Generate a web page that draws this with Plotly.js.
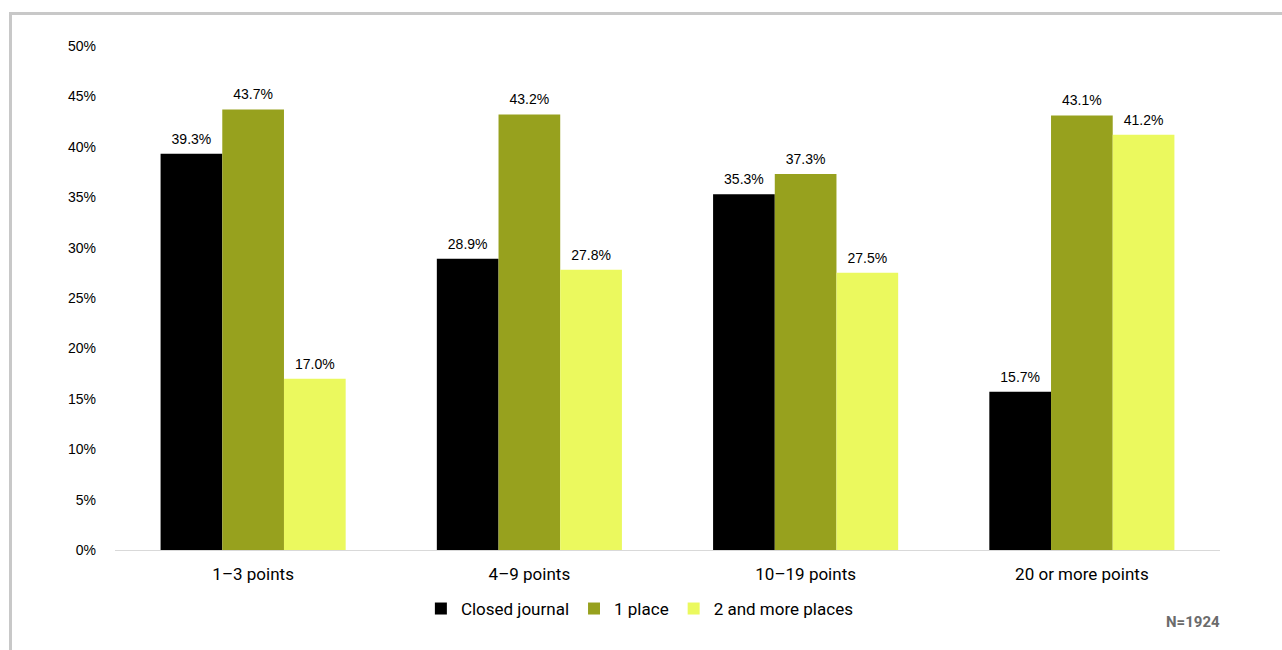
<!DOCTYPE html>
<html><head><meta charset="utf-8">
<script src="https://cdn.plot.ly/plotly-3.0.1.min.js"></script>
<style>
html,body{margin:0;padding:0;background:#fff;}
#chart{width:1282px;height:650px;}
#frame{position:absolute;left:9px;top:12px;width:1300px;height:700px;border-left:3px solid #c8c8c8;border-top:3px solid #c8c8c8;pointer-events:none;}
</style></head><body>
<div id="chart"></div>
<div id="frame"></div>
<script>
const categories = ["1–3 points", "4–9 points", "10–19 points", "20 or more points"];
const closedJournal = [39.3, 28.9, 35.3, 15.7];
const onePlace = [43.7, 43.2, 37.3, 43.1];
const twoMorePlaces = [17.0, 27.8, 27.5, 41.2];
const seriesNames = ["Closed journal", "1 place", "2 and more places"];
const colors = ["#000000", "#97a11e", "#ebf95e"];
const yTickVals = [0,5,10,15,20,25,30,35,40,45,50];
const yTickText = yTickVals.map(v => v + "%");

const series = [closedJournal, onePlace, twoMorePlaces];
const bars = series.map((vals, i) => ({
  type: "bar",
  name: seriesNames[i],
  x: categories,
  y: vals,
  offsetgroup: String(i),
  marker: {color: colors[i]},
  hoverinfo: "x+y+name"
}));
const labels = series.map((vals, i) => ({
  type: "scatter",
  mode: "markers+text",
  x: categories,
  y: vals,
  offsetgroup: String(i),
  showlegend: false,
  hoverinfo: "skip",
  marker: {size: 9, color: "rgba(0,0,0,0)"},
  text: vals.map(v => v.toFixed(1) + "%"),
  textposition: "top center",
  cliponaxis: false,
  textfont: {family: "Liberation Sans, Arial, sans-serif", size: 14, color: "#000"}
}));

const layout = {
  width: 1282, height: 650,
  margin: {l: 115, r: 62, t: 46, b: 100},
  paper_bgcolor: "rgba(0,0,0,0)",
  plot_bgcolor: "#fff",
  barmode: "group",
  scattermode: "group",
  bargap: 0.33,
  bargroupgap: 0,
  showlegend: true,
  legend: {orientation: "h", x: 0.475, xanchor: "center", y: -0.117, yanchor: "middle",
    font: {family: "Roboto, sans-serif", size: 17, color: "#000"}, traceorder: "normal",
    itemwidth: 30},
  xaxis: {tickfont: {family: "Roboto, sans-serif", size: 17, color: "#000"},
    showline: true, linecolor: "#d9d9d9", linewidth: 1, ticks: "", showgrid: false,
    ticklabelstandoff: 9},
  yaxis: {range: [0, 50], tickvals: yTickVals, ticktext: yTickText, showgrid: false,
    zeroline: false, showline: false, ticks: "", ticklabelstandoff: 18,
    tickfont: {family: "Liberation Sans, Arial, sans-serif", size: 14, color: "#000"}},
  annotations: [{text: "<b>N=1924</b>", xref: "paper", yref: "paper", x: 1.002, y: -0.143,
    xanchor: "right", yanchor: "middle", showarrow: false,
    font: {family: "Roboto, sans-serif", size: 15, color: "#6b6b6b"}}]
};
Plotly.newPlot("chart", bars.concat(labels), layout, {displayModeBar: false});
</script>
</body></html>
